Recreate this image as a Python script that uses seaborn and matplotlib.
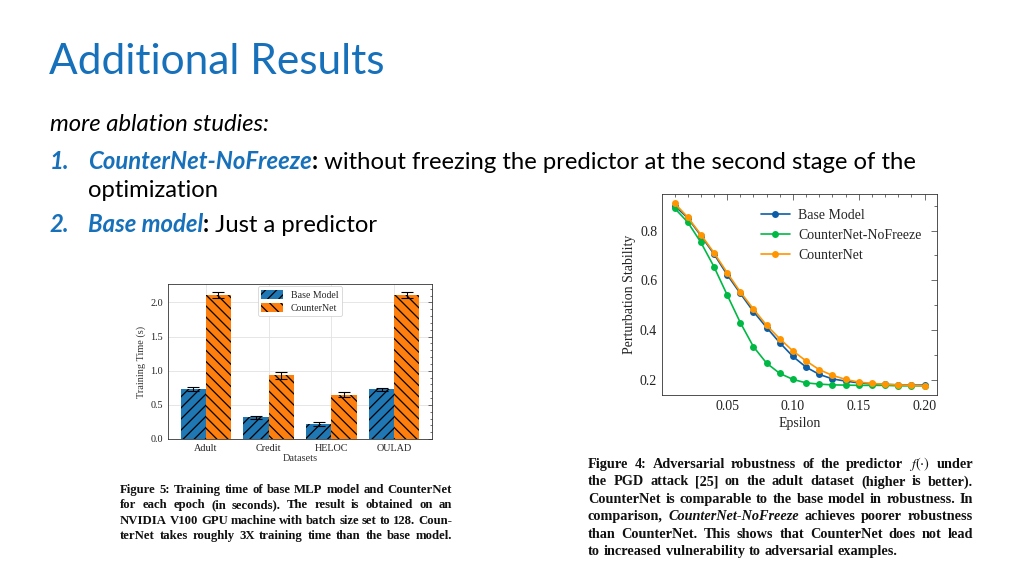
import matplotlib
matplotlib.use("Agg")
import matplotlib.pyplot as plt
import matplotlib.ticker as mticker
from matplotlib.patches import Patch
import seaborn as sns
import pandas as pd

# ---- data ----
datasets = ["Adult", "Credit", "HELOC", "OULAD"]
models = ["Base Model", "CounterNet"]
base_time = [0.737, 0.317, 0.224, 0.732]
base_err = [0.027, 0.024, 0.029, 0.022]
cnet_time = [2.113, 0.932, 0.649, 2.113]
cnet_err = [0.044, 0.049, 0.041, 0.046]

epsilon = [0.01, 0.02, 0.03, 0.04, 0.05, 0.06, 0.07, 0.08, 0.09, 0.10,
           0.11, 0.12, 0.13, 0.14, 0.15, 0.16, 0.17, 0.18, 0.19, 0.20]
stab_base = [0.900, 0.851, 0.780, 0.706, 0.623, 0.548, 0.475, 0.411, 0.350, 0.295,
             0.252, 0.223, 0.205, 0.196, 0.189, 0.185, 0.183, 0.181, 0.180, 0.180]
stab_nofreeze = [0.890, 0.834, 0.753, 0.655, 0.542, 0.431, 0.334, 0.268, 0.227, 0.203,
                 0.189, 0.184, 0.181, 0.180, 0.179, 0.179, 0.179, 0.177, 0.177, 0.177]
stab_cnet = [0.910, 0.854, 0.784, 0.711, 0.631, 0.554, 0.485, 0.420, 0.366, 0.317,
             0.277, 0.242, 0.219, 0.203, 0.192, 0.187, 0.183, 0.181, 0.179, 0.177]

W, H = 1024, 576
BLUE_TXT = "#1670BA"
SERIF = ["Liberation Serif", "DejaVu Serif"]

sns.set_theme(style="white")
plt.rcParams["font.family"] = ["Lato", "DejaVu Sans"]
plt.rcParams["mathtext.fontset"] = "stix"
plt.rcParams["hatch.color"] = "black"
plt.rcParams["hatch.linewidth"] = 0.9

fig = plt.figure(figsize=(W / 100, H / 100), dpi=100)
fig.patch.set_facecolor("white")
renderer = fig.canvas.get_renderer()


def box(left, top, right, bottom):
    return [left / W, 1 - bottom / H, (right - left) / W, (bottom - top) / H]


def science_ticks(ax, fs):
    ax.tick_params(which="both", direction="in", top=True, right=True,
                   labelsize=fs, colors="#333333", labelcolor="#222222")
    ax.tick_params(which="major", length=3, width=0.5)
    ax.tick_params(which="minor", length=1.5, width=0.5)
    for s in ax.spines.values():
        s.set_linewidth(0.6)
        s.set_color("#333333")
    for lab in ax.get_xticklabels() + ax.get_yticklabels():
        lab.set_family(SERIF)


# ---- bar chart: training time ----
ax1 = fig.add_axes(box(168, 284, 432, 439))
df_time = pd.DataFrame({
    "Datasets": datasets * 2,
    "Model": [models[0]] * 4 + [models[1]] * 4,
    "Time": base_time + cnet_time,
})
sns.barplot(data=df_time, x="Datasets", y="Time", hue="Model", ax=ax1,
            palette=["#1f77b4", "#ff7f0e"], width=0.8, saturation=1,
            edgecolor="black", linewidth=0, legend=False, zorder=3)
hatches = ["///", "\\\\\\"]
for cont, hatch, errs in zip(ax1.containers, hatches, [base_err, cnet_err]):
    xs, ys = [], []
    for p in cont.patches:
        p.set_hatch(hatch)
        xs.append(p.get_x() + p.get_width() / 2)
        ys.append(p.get_height())
    ax1.errorbar(xs, ys, yerr=errs, fmt="none", ecolor="black",
                 elinewidth=0.8, capsize=4, capthick=0.8, zorder=4)
ax1.set_ylim(0, 2.27)
ax1.set_xlim(-0.6, 3.6)
ax1.yaxis.set_major_locator(mticker.MultipleLocator(0.5))
ax1.yaxis.set_major_formatter(mticker.FormatStrFormatter("%.1f"))
ax1.yaxis.set_minor_locator(mticker.AutoMinorLocator(5))
ax1.grid(True, color="#e2e2e2", linewidth=0.6, zorder=0)
ax1.set_axisbelow(True)
ax1.set_xlabel("Datasets", family=SERIF, fontsize=7.4, color="#333333", labelpad=1)
ax1.set_ylabel("Training Time (s)", family=SERIF, fontsize=7.4, color="#333333", labelpad=3)
science_ticks(ax1, 7.3)
ax1.tick_params(axis="x", which="major", top=False, length=0)
handles = [Patch(facecolor="#1f77b4", hatch="///", edgecolor="black", linewidth=0, label=models[0]),
           Patch(facecolor="#ff7f0e", hatch="\\\\\\", edgecolor="black", linewidth=0, label=models[1])]
leg = ax1.legend(handles=handles, loc="upper center", prop={"family": SERIF, "size": 7.1},
                 frameon=True, fancybox=True, edgecolor="#cccccc", framealpha=1,
                 borderaxespad=0.25, handlelength=2.2, handleheight=1.0,
                 borderpad=0.35, labelspacing=0.35)
leg.get_frame().set_linewidth(0.5)

# ---- line chart: perturbation stability ----
ax2 = fig.add_axes(box(662, 194, 937, 395))
df_stab = pd.DataFrame({
    "Epsilon": epsilon * 3,
    "Stability": stab_base + stab_nofreeze + stab_cnet,
    "Model": ["Base Model"] * 20 + ["CounterNet-NoFreeze"] * 20 + ["CounterNet"] * 20,
})
sns.lineplot(data=df_stab, x="Epsilon", y="Stability", hue="Model",
             palette=["#0C5DA5", "#00B945", "#FF9500"], marker="o",
             markersize=5, markeredgewidth=0, linewidth=1.2, ax=ax2)
ax2.xaxis.set_major_locator(mticker.MultipleLocator(0.05))
ax2.xaxis.set_minor_locator(mticker.MultipleLocator(0.01))
ax2.xaxis.set_major_formatter(mticker.FormatStrFormatter("%.2f"))
ax2.yaxis.set_major_locator(mticker.MultipleLocator(0.2))
ax2.yaxis.set_minor_locator(mticker.MultipleLocator(0.1))
ax2.yaxis.set_major_formatter(mticker.FormatStrFormatter("%.1f"))
ax2.set_xlabel("Epsilon", family=SERIF, fontsize=10, color="#222222", labelpad=3)
ax2.set_ylabel("Perturbation Stability", family=SERIF, fontsize=10, color="#222222", labelpad=3)
science_ticks(ax2, 10)
ax2.tick_params(which="major", length=4)
ax2.tick_params(which="minor", length=2)
ax2.legend(loc="upper right", frameon=False, prop={"family": SERIF, "size": 10},
           handlelength=2.1, labelspacing=0.5, borderaxespad=0.7, handletextpad=0.6)


# ---- slide text ----
def run_line(x, y, runs, size, family):
    """draw text runs side by side starting at pixel x, baseline y."""
    for text, kw in runs:
        t = fig.text(x / W, 1 - y / H, text, fontsize=size, family=family,
                     va="baseline", ha="left", **kw)
        x += t.get_window_extent(renderer).width
    return x


def justify_line(x0, x1, y, runs, size, family, justify=True):
    """bold caption line, words spread to fill x0..x1."""
    words = []
    for text, style in runs:
        words += [(w, style) for w in text.split(" ") if w]
    arts = [fig.text(0, 1 - y / H, w, fontsize=size, family=family, fontweight="bold",
                     fontstyle=st, va="baseline", ha="left", color="#111111") for w, st in words]
    widths = [a.get_window_extent(renderer).width for a in arts]
    if justify and len(arts) > 1:
        gap = (x1 - x0 - sum(widths)) / (len(arts) - 1)
    else:
        gap = size * 100 / 72 * 0.27
    x = x0
    for a, w in zip(arts, widths):
        a.set_x(x / W)
        x += w + gap


fig.text(49 / W, 1 - 73.5 / H, "Additional Results", fontsize=30.5, fontweight="normal",
         color=BLUE_TXT, va="baseline", ha="left")

BODY = 17.2
fig.text(50 / W, 1 - 130.7 / H, "more ablation studies:", fontsize=BODY,
         fontstyle="italic", color="black", va="baseline")
bi = {"fontweight": "bold", "fontstyle": "italic", "color": BLUE_TXT}
bk = {"fontweight": "bold", "color": "black"}
rg = {"color": "black"}
fig.text(50 / W, 1 - 169.3 / H, "1.", fontsize=BODY, va="baseline", **bi)
run_line(88, 169.3, [("CounterNet-NoFreeze", bi), (":", bk),
                     (" without freezing the predictor at the second stage of the", rg)], BODY, ["Lato"])
fig.text(88 / W, 1 - 197.3 / H, "optimization", fontsize=BODY, va="baseline", color="black")
fig.text(50 / W, 1 - 231.7 / H, "2.", fontsize=BODY, va="baseline", **bi)
run_line(88, 231.7, [("Base model", bi), (":", bk), (" Just a predictor", rg)], BODY, ["Lato"])

cap5 = [
    [("Figure 5: Training time of base MLP model and CounterNet", "normal")],
    [("for each epoch (in seconds). The result is obtained on an", "normal")],
    [("NVIDIA V100 GPU machine with batch size set to 128. Coun-", "normal")],
    [("terNet takes roughly 3X training time than the base model.", "normal")],
]
for i, runs in enumerate(cap5):
    justify_line(120, 452, 493 + i * 15.3, runs, 9.2, SERIF)

cap4 = [
    [(r"Figure 4: Adversarial robustness of the predictor $f(\cdot)$ under", "normal")],
    [("the PGD attack [25] on the adult dataset (higher is better).", "normal")],
    [("CounterNet is comparable to the base model in robustness. In", "normal")],
    [("comparison,", "normal"), ("CounterNet-NoFreeze", "italic"), ("achieves poorer robustness", "normal")],
    [("than CounterNet. This shows that CounterNet does not lead", "normal")],
    [("to increased vulnerability to adversarial examples.", "normal")],
]
for i, runs in enumerate(cap4):
    justify_line(588, 973, 468 + i * 17.4, runs, 10.3, SERIF, justify=(i < 5))

fig.savefig("out.png", dpi=100, facecolor="white")
